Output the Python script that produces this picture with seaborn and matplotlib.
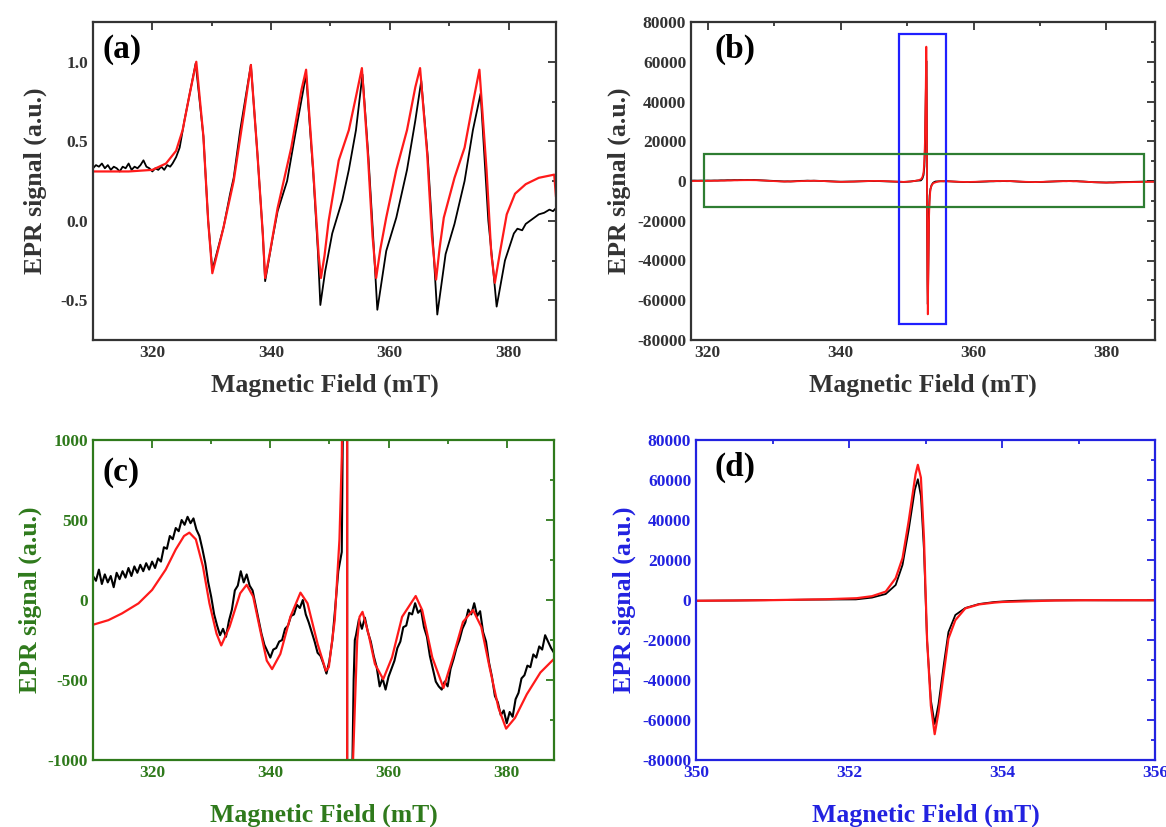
import numpy as np
import matplotlib
matplotlib.use("Agg")
import matplotlib.pyplot as plt
from matplotlib.patches import Rectangle
from matplotlib.ticker import MultipleLocator, FormatStrFormatter
import seaborn as sns

# ---------------- data: panel (a) (normalised spectrum) ----------------
a_red_field = [310, 316, 320, 322.3, 324, 325.1, 326.3, 327.4, 328.6, 329.4, 330.1, 330.9, 332,
               333.7, 335.4, 336.6, 337.7, 338.6, 339.0, 339.8, 341.1, 343.4, 345.1, 345.9, 347.1,
               348.0, 348.4, 349.0, 349.7, 351.4, 353.1, 354.3, 355.3, 356.3, 357.1, 357.7, 358.4,
               359.4, 361.1, 362.9, 364.3, 365.1, 366.3, 367.1, 367.8, 368.4, 369.1, 370.9, 372.6,
               374.0, 375.1, 376.3, 377.1, 377.7, 378.6, 379.7, 381.1, 382.9, 385.1, 387.7, 388.0]
a_red_signal = [0.31, 0.31, 0.32, 0.36, 0.44, 0.57, 0.80, 1.00, 0.53, 0.00, -0.33, -0.21, -0.04,
                0.25, 0.67, 0.98, 0.42, -0.08, -0.36, -0.20, 0.08, 0.46, 0.82, 0.95, 0.32,
                -0.21, -0.36, -0.22, 0.00, 0.38, 0.57, 0.78, 0.96, 0.42, -0.10, -0.36, -0.18,
                0.02, 0.32, 0.57, 0.84, 0.96, 0.42, -0.10, -0.37, -0.17, 0.02, 0.27, 0.46,
                0.74, 0.95, 0.32, -0.21, -0.39, -0.19, 0.04, 0.17, 0.23, 0.27, 0.29, 0.15]

a_blk_base_field = np.arange(310.0, 323.01, 0.5)
a_blk_base_signal = [0.33, 0.35, 0.34, 0.36, 0.33, 0.35, 0.32, 0.34, 0.33, 0.31, 0.34, 0.33, 0.36,
                     0.32, 0.34, 0.33, 0.35, 0.38, 0.34, 0.33, 0.31, 0.33, 0.32, 0.34, 0.32, 0.35, 0.34]
a_blk_field = [323.4, 324.0, 324.6, 325.4, 326.3, 327.3, 328.6, 329.4, 330.1, 332.0, 333.1, 333.7,
               334.8, 336.6, 337.7, 338.6, 339.0, 340.3, 341.1, 342.7, 344.1, 345.9, 347.1, 347.9,
               348.3, 349.1, 350.3, 352.0, 353.1, 354.3, 355.4, 356.4, 357.2, 357.9, 359.4, 361.1,
               362.9, 364.3, 365.3, 366.4, 367.3, 368.0, 369.4, 370.9, 372.6, 374.0, 375.3, 376.6,
               377.4, 378.0, 379.4, 380.9, 381.5, 382.3, 382.9, 384.0, 385.1, 386.0, 386.9, 387.5, 388.0]
a_blk_signal = [0.36, 0.40, 0.46, 0.63, 0.80, 0.99, 0.53, 0.00, -0.31, -0.04, 0.17, 0.27,
                0.57, 0.98, 0.42, -0.08, -0.38, -0.10, 0.06, 0.25, 0.55, 0.92, 0.30, -0.20,
                -0.53, -0.32, -0.08, 0.13, 0.32, 0.57, 0.92, 0.40, -0.10, -0.56, -0.19, 0.02,
                0.32, 0.63, 0.88, 0.40, -0.15, -0.59, -0.21, -0.02, 0.25, 0.57, 0.80, 0.00,
                -0.30, -0.54, -0.25, -0.08, -0.05, -0.06, -0.02, 0.01, 0.04, 0.05, 0.07, 0.06, 0.08]

# ---------------- data: panels (b), (c), (d) (same spectrum) ----------------
red_field = [309.7, 312.6, 314.9, 317.7, 320.0, 322.3, 324.0, 325.4, 326.3, 327.4, 328.6, 329.7,
             330.9, 331.7, 333.1, 334.9, 336.0, 337.1, 338.3, 339.4, 340.3, 341.7, 343.4, 345.1,
             346.3, 348.0, 349.4, 349.9, 350.9, 351.7,
             352.1, 352.3, 352.48, 352.61, 352.7, 352.78, 352.87, 352.9, 352.94, 352.98, 353.02,
             353.07, 353.12, 353.17, 353.24, 353.3, 353.39, 353.52, 353.7, 353.9,
             354.0, 354.3, 354.7, 355.1, 355.6, 356.6, 357.7, 359.1, 360.6, 362.3, 364.6, 365.7,
             367.4, 369.3, 370.9, 372.6, 374.3, 375.7, 377.1, 378.6, 379.9, 381.4, 383.4, 385.7, 388.0]
red_signal = [-158, -126, -84, -21, 63, 190, 316, 400, 421, 379, 210, -21,
              -210, -284, -168, 42, 95, 21, -190, -379, -432, -337, -105, 46,
              -21, -274, -442, -420, -126, 379,
              900, 1900, 4200, 10900, 21000, 39400, 62900, 67600, 61200, 31000, -19300,
              -52800, -67100, -56200, -36100, -19300, -10100, -4200, -2200, -1300,
              -1000, -674, -253, -105, -74, -210, -400, -495, -358, -105, 25, -63,
              -358, -550, -358, -137, -63, -168, -421, -674, -804, -737, -589, -453, -368]

blk_left_field = np.arange(310.0, 351.51, 0.5)
blk_left_signal = [150, 120, 190, 100, 160, 110, 150, 80, 170, 130, 180, 140, 200, 150, 210, 170,
                   220, 180, 230, 190, 240, 200, 260, 240, 330, 320, 400, 380, 450, 430, 500, 470,
                   520, 480, 510, 440, 400, 320, 230, 110, 20, -90, -160, -220, -180, -230, -130,
                   -60, 60, 90, 180, 110, 160, 90, 60, -30, -120, -210, -280, -320, -360, -310,
                   -300, -260, -250, -180, -160, -100, -90, -30, -50, 0, -90, -140, -200, -260,
                   -330, -350, -400, -460, -380, -250, -40, 180]
blk_spike_field = [352.09, 352.3, 352.48, 352.61, 352.7, 352.78, 352.86, 352.9, 352.94, 352.98,
                   353.02, 353.07, 353.12, 353.17, 353.24, 353.3, 353.39, 353.52, 353.7, 353.9,
                   354.1, 354.3]
blk_spike_signal = [300, 1200, 3000, 7500, 17600, 35000, 55000, 60400, 52000, 25000,
                    -20000, -50000, -62000, -52000, -32000, -16000, -7500, -4000, -2000, -1000,
                    -500, -250]
blk_right_field = np.arange(354.5, 388.01, 0.5)
blk_right_signal = [-220, -120, -180, -110, -200, -260, -350, -420, -540, -490, -560, -480, -430,
                    -380, -300, -260, -170, -160, -80, -90, -20, -80, -60, -170, -230, -350, -430,
                    -510, -540, -560, -510, -540, -430, -370, -300, -250, -180, -140, -60, -90, -20,
                    -100, -70, -200, -260, -390, -480, -600, -640, -720, -690, -770, -700, -730,
                    -620, -580, -490, -470, -410, -420, -340, -360, -290, -310, -220, -260, -300, -330]

# ---------------- style ----------------
sns.set_style("white")
plt.rcParams["font.family"] = ["Liberation Serif", "DejaVu Serif"]
plt.rcParams["font.weight"] = "bold"
plt.rcParams["axes.labelweight"] = "bold"
plt.rcParams["axes.unicode_minus"] = False

DARK = "#333333"
GREEN = "#2f7a1c"
BLUE = "#2222e0"
RED = "#ff1a1a"

fig = plt.figure(figsize=(11.66, 8.27), dpi=100)
W, H = 1166, 827


def make_ax(l, r, t, b):
    return fig.add_axes([l / W, 1 - b / H, (r - l) / W, (b - t) / H])


def style_ax(ax, color, xmaj, xmin, ymaj, ymin):
    for s in ax.spines.values():
        s.set_color(color)
        s.set_linewidth(1.6)
        s.set_visible(True)
    ax.xaxis.set_major_locator(MultipleLocator(xmaj))
    ax.xaxis.set_minor_locator(MultipleLocator(xmin))
    ax.yaxis.set_major_locator(MultipleLocator(ymaj))
    ax.yaxis.set_minor_locator(MultipleLocator(ymin))
    ax.tick_params(which="both", direction="in", top=True, right=True, color=color,
                   labelcolor=color, labelsize=12.5, width=1.3)
    ax.tick_params(which="major", length=6)
    ax.tick_params(which="minor", length=3)
    for lab in ax.get_xticklabels() + ax.get_yticklabels():
        lab.set_fontweight("bold")
    ax.set_xlabel("Magnetic Field (mT)", fontsize=18.5, fontweight="bold", color=color)
    ax.set_ylabel("EPR signal (a.u.)", fontsize=18.5, fontweight="bold", color=color)


def plot_line(ax, x, y, color, lw):
    sns.lineplot(x=np.asarray(x, dtype=float), y=np.asarray(y, dtype=float), ax=ax,
                 color=color, linewidth=lw, sort=False, estimator=None)


blk_field = np.concatenate([blk_left_field, blk_spike_field, blk_right_field])
blk_signal = np.concatenate([blk_left_signal, blk_spike_signal, blk_right_signal])

# (a)
ax = make_ax(93, 556, 22, 340)
plot_line(ax, np.concatenate([a_blk_base_field, a_blk_field]),
          np.concatenate([a_blk_base_signal, a_blk_signal]), "black", 1.3)
plot_line(ax, a_red_field, a_red_signal, RED, 1.6)
ax.set_xlim(310, 388)
ax.set_ylim(-0.75, 1.25)
style_ax(ax, DARK, 20, 10, 0.5, 0.25)
ax.yaxis.set_major_formatter(FormatStrFormatter("%.1f"))
ax.xaxis.labelpad = 9
ax.yaxis.labelpad = 10
ax.text(0.02, 0.915, "(a)", transform=ax.transAxes, fontsize=24, fontweight="bold",
        ha="left", va="center", color="black")

# (b)
ax = make_ax(691, 1155, 22, 340)
plot_line(ax, blk_field, blk_signal, "black", 1.3)
plot_line(ax, red_field, red_signal, RED, 1.3)
ax.set_xlim(317.5, 387.3)
ax.set_ylim(-80000, 80000)
style_ax(ax, DARK, 20, 10, 20000, 10000)
ax.ticklabel_format(axis="y", style="plain", useOffset=False)
ax.xaxis.labelpad = 9
ax.add_patch(Rectangle((348.8, -72000), 7.1, 146000, fill=False, edgecolor="#1f1fff", linewidth=1.6, zorder=5))
ax.add_patch(Rectangle((319.5, -13300), 66.2, 26700, fill=False, edgecolor="#2e7d32", linewidth=1.6, zorder=5))
ax.text(0.05, 0.915, "(b)", transform=ax.transAxes, fontsize=24, fontweight="bold",
        ha="left", va="center", color="black")

# (c)
ax = make_ax(93, 554, 440, 760)
plot_line(ax, blk_field, blk_signal, "black", 1.5)
plot_line(ax, red_field, red_signal, RED, 1.6)
ax.set_xlim(310, 388)
ax.set_ylim(-1000, 1000)
style_ax(ax, GREEN, 20, 10, 500, 250)
ax.xaxis.labelpad = 16
ax.text(0.02, 0.9, "(c)", transform=ax.transAxes, fontsize=24, fontweight="bold",
        ha="left", va="center", color="black")

# (d)
ax = make_ax(696, 1155, 440, 760)
plot_line(ax, blk_field, blk_signal, "black", 1.3)
plot_line(ax, red_field, red_signal, RED, 1.6)
ax.set_xlim(350, 356)
ax.set_ylim(-80000, 80000)
style_ax(ax, BLUE, 2, 1, 20000, 10000)
ax.ticklabel_format(axis="y", style="plain", useOffset=False)
ax.xaxis.labelpad = 16
ax.text(0.04, 0.915, "(d)", transform=ax.transAxes, fontsize=24, fontweight="bold",
        ha="left", va="center", color="black")

fig.savefig("out.png", dpi=100, facecolor="white")
